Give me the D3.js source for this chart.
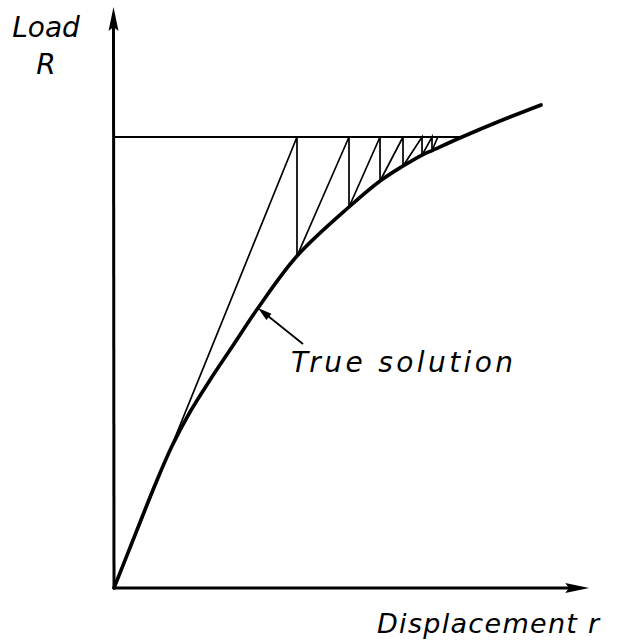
<!DOCTYPE html>
<html>
<head>
<meta charset="utf-8">
<script src="https://cdn.jsdelivr.net/npm/d3@7"></script>
<style>
  html, body { margin: 0; padding: 0; background: #fff; }
  svg text { font-family: "DejaVu Sans", sans-serif; font-style: italic; fill: #000; }
</style>
</head>
<body>
<svg id="chart" width="623" height="640"></svg>
<script>
// True load–displacement curve (displacement r, load R)
const curveR = [0, 4.57, 8.91, 12.61, 16.52, 20.87, 25.65, 31.3, 39.78, 51.09, 57.83, 62.83, 66.96, 69.13, 75.65, 83.91, 92.83];
const curveLoad = [0, 11.75, 22.84, 31.49, 39.02, 46.12, 53.44, 62.08, 73.61, 84.48, 90.24, 93.57, 96.0, 97.0, 100, 103.55, 107.1];

// Applied load level
const loadLevel = 100;
const loadLevelEnd = 75.65;

// Iterations: each starts on the curve, rises to the load level, then drops back
const iterStartR = [0, 39.78, 51.09, 57.83, 62.83, 66.96, 69.13];
const iterStartLoad = [0, 73.61, 84.48, 90.24, 93.57, 96.0, 97.0];
const iterEndR = [39.78, 51.09, 57.83, 62.83, 66.96, 69.13, 70.4];

// Axis extents and labels
const axisMaxR = 103.3;
const axisMaxLoad = 128.8;
const yLabelLines = ["Load", "R"];
const xLabel = "Displacement r";
const curveLabel = "True solution";
const curveLabelAt = [31.3, 62.08];

const svg = d3.select("#chart");
const x = d3.scaleLinear().domain([0, 100]).range([114, 574]);
const y = d3.scaleLinear().domain([0, 100]).range([588, 137]);

// Axes with arrowheads
const x0 = x(0), y0 = y(0), xEnd = x(axisMaxR), yEnd = y(axisMaxLoad);
svg.append("line").attr("x1", x0).attr("y1", y0 + 1).attr("x2", x0 - 0.5).attr("y2", yEnd + 18)
  .attr("stroke", "#000").attr("stroke-width", 3);
svg.append("path").attr("d", `M${x0 - 0.5},${yEnd} L${x0 - 5.5},${yEnd + 24} L${x0 - 0.5},${yEnd + 20} L${x0 + 4.5},${yEnd + 24} Z`)
  .attr("fill", "#000");
svg.append("line").attr("x1", x0 - 1).attr("y1", y0).attr("x2", xEnd - 16).attr("y2", y0)
  .attr("stroke", "#000").attr("stroke-width", 3);
svg.append("path").attr("d", `M${xEnd},${y0} L${xEnd - 24},${y0 - 5} L${xEnd - 20},${y0} L${xEnd - 24},${y0 + 5} Z`)
  .attr("fill", "#000");

// Load level line
svg.append("line")
  .attr("x1", x(0)).attr("y1", y(loadLevel))
  .attr("x2", x(loadLevelEnd)).attr("y2", y(loadLevel))
  .attr("stroke", "#000").attr("stroke-width", 2.2);

// Iteration lines
const g = svg.append("g").attr("stroke", "#000").attr("fill", "none").attr("stroke-width", 1.7)
  .attr("stroke-linecap", "round");
iterStartR.forEach((r0, i) => {
  const pts = [[x(r0), y(iterStartLoad[i])], [x(iterEndR[i]), y(loadLevel)]];
  if (i + 1 < iterStartR.length) pts.push([x(iterEndR[i]), y(iterStartLoad[i + 1])]);
  g.append("path").attr("d", d3.line()(pts));
});

// True solution curve
const curvePts = curveR.map((r, i) => [r, curveLoad[i]]);
svg.append("path")
  .attr("d", d3.line().x(d => x(d[0])).y(d => y(d[1])).curve(d3.curveCatmullRom.alpha(0.5))(curvePts))
  .attr("fill", "none").attr("stroke", "#000").attr("stroke-width", 3.6)
  .attr("stroke-linecap", "round");

// Annotation arrow pointing at the curve
const tipX = x(curveLabelAt[0]), tipY = y(curveLabelAt[1]);
const tailX = tipX + 45, tailY = tipY + 36;
const ang = Math.atan2(tailY - tipY, tailX - tipX);
svg.append("line").attr("x1", tipX + 8 * Math.cos(ang)).attr("y1", tipY + 8 * Math.sin(ang))
  .attr("x2", tailX).attr("y2", tailY).attr("stroke", "#000").attr("stroke-width", 1.8);
const ah = 14, aw = 4;
const bx = tipX + ah * Math.cos(ang), by = tipY + ah * Math.sin(ang);
svg.append("path")
  .attr("d", `M${tipX},${tipY} L${bx - aw * Math.sin(ang)},${by + aw * Math.cos(ang)} L${bx + aw * Math.sin(ang)},${by - aw * Math.cos(ang)} Z`)
  .attr("fill", "#000");

// Labels
svg.append("text").attr("x", 46).attr("y", 37).attr("text-anchor", "middle")
  .attr("font-size", 28).text(yLabelLines[0]);
svg.append("text").attr("x", 46).attr("y", 74).attr("text-anchor", "middle")
  .attr("font-size", 28).text(yLabelLines[1]);
svg.append("text").attr("x", 377).attr("y", 633).attr("font-size", 27)
  .attr("letter-spacing", 1.3).text(xLabel);
svg.append("text").attr("x", 291).attr("y", 372).attr("font-size", 28)
  .attr("letter-spacing", 3.4).text(curveLabel);
</script>
</body>
</html>
